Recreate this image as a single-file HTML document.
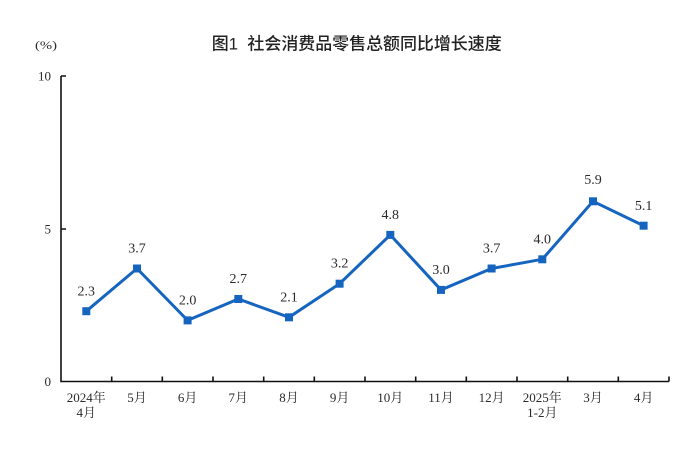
<!DOCTYPE html>
<html><head><meta charset="utf-8"><style>
html,body{margin:0;padding:0;background:#fff;}
svg{display:block;}
.s{font-family:"Liberation Serif","Noto Serif CJK SC",serif;fill:#2a2a2a;}
</style></head><body>
<svg width="700" height="452" viewBox="0 0 700 452" xmlns="http://www.w3.org/2000/svg">
<rect width="700" height="452" fill="#fff"/>
<text x="211.7" y="49.5" font-family="'Liberation Sans','Noto Sans CJK SC',sans-serif" font-size="17" font-weight="500" fill="#222" textLength="290" lengthAdjust="spacing">图1&#160;&#160;社会消费品零售总额同比增长速度</text>
<text class="s" x="35" y="49" font-size="12" textLength="22" lengthAdjust="spacingAndGlyphs">(%)</text>
<!-- axes -->
<g stroke="#111" stroke-width="1.6" fill="none">
<path d="M61,76 L61,381.5 L669,381.5"/>
<path d="M61,76 L66,76 M61,229 L66,229"/>
<path d="M111.7,381.5v-5 M162.3,381.5v-5 M213,381.5v-5 M263.7,381.5v-5 M314.3,381.5v-5 M365,381.5v-5 M415.7,381.5v-5 M466.3,381.5v-5 M517,381.5v-5 M567.7,381.5v-5 M618.3,381.5v-5 M669,381.5v-5"/>
</g>
<g class="s" font-size="13" text-anchor="end">
<text x="51" y="80.5">10</text>
<text x="51" y="233.5">5</text>
<text x="51" y="386">0</text>
</g>
<g class="s" font-size="13" text-anchor="middle">
<text x="86.3" y="402">2024年</text><text x="86.3" y="417">4月</text>
<text x="137" y="402">5月</text>
<text x="187.6" y="402">6月</text>
<text x="238.3" y="402">7月</text>
<text x="289" y="402">8月</text>
<text x="339.6" y="402">9月</text>
<text x="390.3" y="402">10月</text>
<text x="441" y="402">11月</text>
<text x="491.6" y="402">12月</text>
<text x="542.3" y="402">2025年</text><text x="542.3" y="417">1-2月</text>
<text x="593" y="402">3月</text>
<text x="643.6" y="402">4月</text>
</g>
<polyline fill="none" stroke="#1565c0" stroke-width="3" stroke-linejoin="miter" points="86.3,311.2 137,268.5 187.6,320.4 238.3,299 289,317.3 339.6,283.7 390.3,234.9 441,289.9 491.6,268.5 542.3,259.3 593,201.3 643.6,225.7"/>
<g fill="#1565c0">
<rect x="82.3" y="307.2" width="8" height="8"/>
<rect x="133" y="264.5" width="8" height="8"/>
<rect x="183.6" y="316.4" width="8" height="8"/>
<rect x="234.3" y="295" width="8" height="8"/>
<rect x="285" y="313.3" width="8" height="8"/>
<rect x="335.6" y="279.7" width="8" height="8"/>
<rect x="386.3" y="230.9" width="8" height="8"/>
<rect x="437" y="285.9" width="8" height="8"/>
<rect x="487.6" y="264.5" width="8" height="8"/>
<rect x="538.3" y="255.3" width="8" height="8"/>
<rect x="589" y="197.3" width="8" height="8"/>
<rect x="639.6" y="221.7" width="8" height="8"/>
</g>
<g class="s" font-size="14" text-anchor="middle">
<text x="86.3" y="295.5">2.3</text>
<text x="137" y="252.5">3.7</text>
<text x="187.6" y="304.5">2.0</text>
<text x="238.3" y="283">2.7</text>
<text x="289" y="301.5">2.1</text>
<text x="339.6" y="267.5">3.2</text>
<text x="390.3" y="219">4.8</text>
<text x="441" y="274">3.0</text>
<text x="491.6" y="252.5">3.7</text>
<text x="542.3" y="243.5">4.0</text>
<text x="593" y="184">5.9</text>
<text x="643.6" y="210">5.1</text>
</g>
</svg>
</body></html>
